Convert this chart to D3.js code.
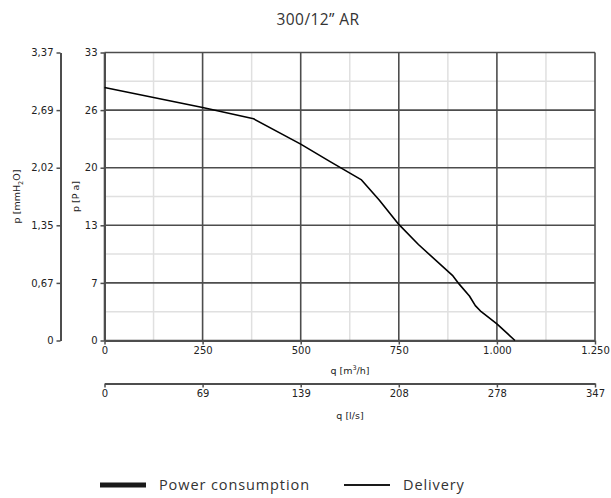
<!DOCTYPE html>
<html>
<head>
<meta charset="utf-8">
<script src="https://cdn.jsdelivr.net/npm/d3@7"></script>
<style>
	body { margin: 0; background: #fff; }
	svg text { font-family: "DejaVu Sans", sans-serif; fill: #222; }
	.title, .legend text { font-family: "Open Sans", Lato, sans-serif; fill: #333; }
	.axis path, .axis line { stroke: #4d4d4d; }
</style>
</head>
<body>
<svg id="chart" width="611" height="498"></svg>
<script>
/* global d3 */

// Kennlinie: Volumenstrom q [m3/h] und Druck p [Pa]
var deliveryQ = [0, 250, 380, 500, 575, 655, 700, 750, 800, 888, 905, 930, 945, 960, 1000, 1046];
var deliveryP = [29.0, 26.7, 25.4, 22.5, 20.5, 18.4, 16.1, 13.3, 11.0, 7.4, 6.4, 5.1, 4.0, 3.3, 1.9, 0];

var qTicks = [0, 250, 500, 750, 1000, 1250];
var qMinor = [125, 375, 625, 875, 1125];
var pTicks = [0, 6.6, 13.2, 19.8, 26.4, 33];
var pMinor = [3.3, 9.9, 16.5, 23.1, 29.7];
var lsTicks = [0, 69.44, 138.89, 208.33, 277.78, 347.22];
var mmTicks = [0, 0.673, 1.346, 2.019, 2.692, 3.365];
var legendItems = ['Power consumption', 'Delivery'];

var loc = d3.formatLocale({decimal: ',', thousands: '.', grouping: [3], currency: ['', '']});
var fmtInt = loc.format(',.0f');
var fmtDec = function (v) { return v === 0 ? '0' : loc.format('.2f')(v); };

var svg = d3.select('#chart');
var pLeft = 104.5, pRight = 595, pTop = 52.5, pBottom = 340.5;

var x = d3.scaleLinear().domain([0, 1250]).range([pLeft, pRight]);
var xLs = d3.scaleLinear().domain([0, 1250 / 3.6]).range([pLeft, pRight]);
var y = d3.scaleLinear().domain([0, 33]).range([pBottom, pTop]);
var yMm = d3.scaleLinear().domain([0, 33 / 9.80665]).range([pBottom, pTop]);

svg.append('text').attr('class', 'title')
	.attr('x', 318).attr('y', 25).attr('text-anchor', 'middle')
	.style('font-size', '15.5px').style('letter-spacing', '0.4px').text('300/12\u201D AR');

// Gitter
var grid = svg.append('g');
grid.selectAll('.vmin').data(qMinor).enter().append('line')
	.attr('x1', d => x(d)).attr('x2', d => x(d)).attr('y1', pTop).attr('y2', pBottom)
	.attr('stroke', '#e0e0e0').attr('stroke-width', 1.5);
grid.selectAll('.hmin').data(pMinor).enter().append('line')
	.attr('x1', pLeft).attr('x2', pRight).attr('y1', d => y(d)).attr('y2', d => y(d))
	.attr('stroke', '#e0e0e0').attr('stroke-width', 1.5);
grid.selectAll('.vmaj').data(qTicks).enter().append('line')
	.attr('x1', d => x(d)).attr('x2', d => x(d)).attr('y1', pTop).attr('y2', pBottom)
	.attr('stroke', '#4d4d4d').attr('stroke-width', 1.6);
grid.selectAll('.hmaj').data(pTicks).enter().append('line')
	.attr('x1', pLeft).attr('x2', pRight).attr('y1', d => y(d)).attr('y2', d => y(d))
	.attr('stroke', '#4d4d4d').attr('stroke-width', 1.6);

// Achsen
function styleAxis (g) {
	g.attr('class', 'axis');
	g.select('.domain').attr('stroke-width', 2);
	g.selectAll('.tick line').attr('stroke-width', 1.5);
	g.selectAll('.tick text').style('font-size', '10px').attr('fill', '#222');
}

svg.append('g').attr('transform', 'translate(' + pLeft + ',0)')
	.call(d3.axisLeft(y).tickValues(pTicks).tickSize(4).tickSizeOuter(0).tickPadding(3).tickFormat(d => fmtInt(d)))
	.call(styleAxis);

svg.append('g').attr('transform', 'translate(60.5,0)')
	.call(d3.axisLeft(yMm).tickValues(mmTicks).tickSize(4).tickSizeOuter(0).tickPadding(3).tickFormat(fmtDec))
	.call(styleAxis);

svg.append('g').attr('transform', 'translate(0,' + pBottom + ')')
	.call(d3.axisBottom(x).tickValues(qTicks).tickSize(4).tickSizeOuter(0).tickPadding(2).tickFormat(d => fmtInt(d)))
	.call(styleAxis);

svg.append('g').attr('transform', 'translate(0,383.5)')
	.call(d3.axisBottom(xLs).tickValues(lsTicks).tickSize(4).tickSizeOuter(0).tickPadding(2).tickFormat(d => fmtInt(d)))
	.call(styleAxis);

// Achsenbeschriftungen
var qLabel = svg.append('text').attr('x', 350).attr('y', 374).attr('text-anchor', 'middle').style('font-size', '9.5px');
qLabel.append('tspan').text('q [m');
qLabel.append('tspan').attr('dy', -4).style('font-size', '6.5px').text('3');
qLabel.append('tspan').attr('dy', 4).text('/h]');

svg.append('text').attr('x', 350).attr('y', 419).attr('text-anchor', 'middle').style('font-size', '9.5px').text('q [l/s]');

var pmLabel = svg.append('text').attr('transform', 'translate(20,' + ((pTop + pBottom) / 2) + ') rotate(-90)')
	.attr('text-anchor', 'middle').style('font-size', '9.5px');
pmLabel.append('tspan').text('p  [mmH');
pmLabel.append('tspan').attr('dy', 3).style('font-size', '6.5px').text('2');
pmLabel.append('tspan').attr('dy', -3).text('O]');

svg.append('text').attr('transform', 'translate(79,' + ((pTop + pBottom) / 2) + ') rotate(-90)')
	.attr('text-anchor', 'middle').style('font-size', '9.5px').text('p [P a]');

// Kurve
var line = d3.line().x(d => x(d[0])).y(d => y(d[1]));
svg.append('path').datum(deliveryQ.map((q, i) => [q, deliveryP[i]]))
	.attr('d', line).attr('fill', 'none').attr('stroke', '#000').attr('stroke-width', 1.6)
	.attr('stroke-linejoin', 'round');

// Legende
var legend = svg.append('g').attr('class', 'legend');
var lx = [100, 344];
legendItems.forEach(function (name, i) {
	legend.append('line').attr('x1', lx[i]).attr('x2', lx[i] + 46).attr('y1', 485).attr('y2', 485)
		.attr('stroke', '#1a1a1a').attr('stroke-width', i === 0 ? 5 : 2);
	legend.append('text').attr('x', lx[i] + 59).attr('y', 490).style('font-size', '14.5px')
		.style('letter-spacing', '0.9px').text(name);
});
</script>
</body>
</html>
